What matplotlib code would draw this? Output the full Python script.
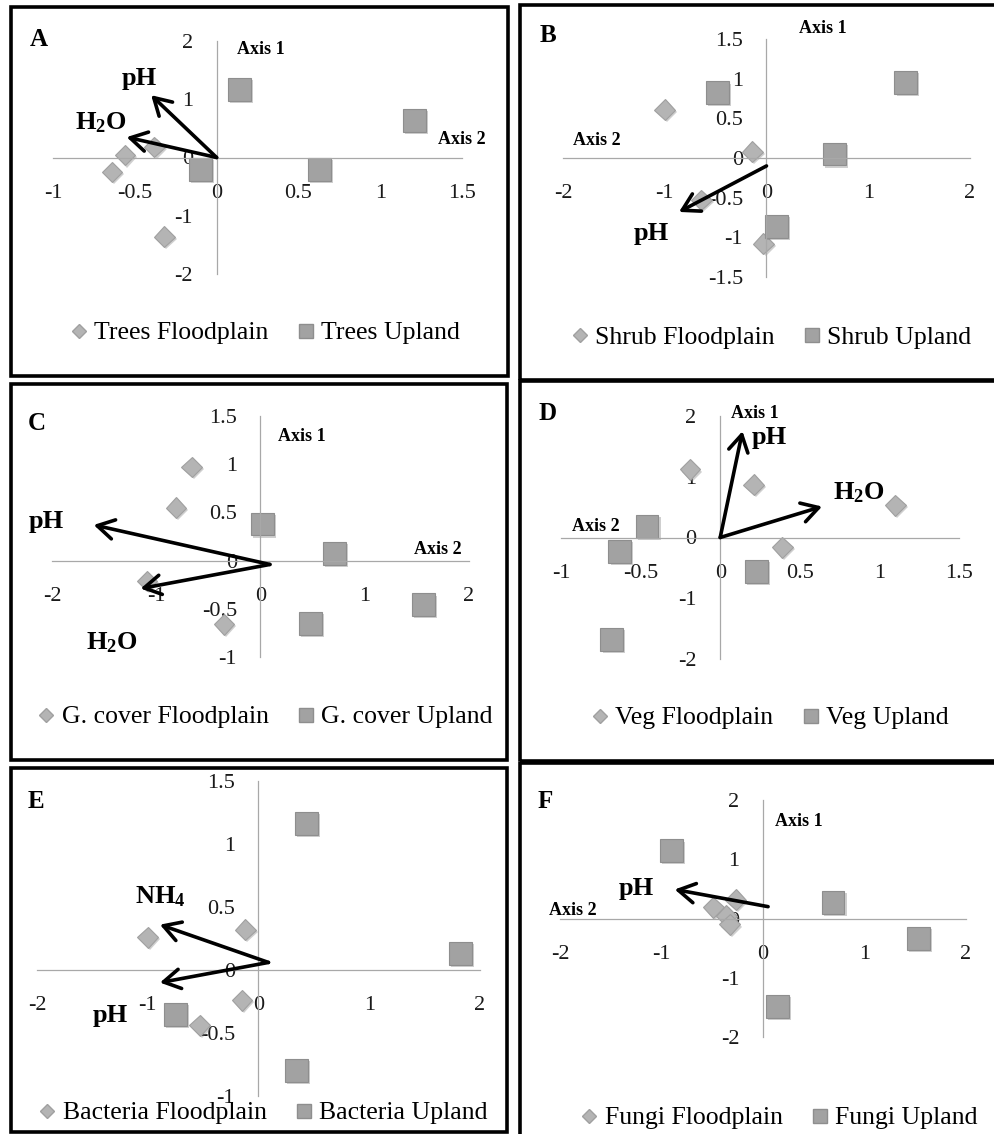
import matplotlib.pyplot as plt
import matplotlib.patheffects as pe
from matplotlib.patches import Rectangle
from matplotlib.lines import Line2D

plt.rcParams['font.family'] = 'Liberation Serif'
plt.rcParams['mathtext.fontset'] = 'custom'
plt.rcParams['mathtext.rm'] = 'Liberation Serif'
plt.rcParams['mathtext.bf'] = 'Liberation Serif:bold'

W, H = 995, 1134

# ordination scores (Axis 2 on x, Axis 1 on y)
trees_flood_x = [-0.38, -0.56, -0.64, -0.32]
trees_flood_y = [0.18, 0.04, -0.25, -1.36]
trees_up_x = [0.14, 1.21, 0.63, -0.10]
trees_up_y = [1.17, 0.63, -0.21, -0.21]

shrub_flood_x = [-1.00, -0.14, -0.64, -0.03]
shrub_flood_y = [0.61, 0.08, -0.53, -1.08]
shrub_up_x = [-0.48, 1.37, 0.67, 0.10]
shrub_up_y = [0.82, 0.95, 0.05, -0.86]

gcover_flood_x = [-0.66, -0.81, -1.09, -0.35]
gcover_flood_y = [0.97, 0.55, -0.21, -0.66]
gcover_up_x = [0.02, 0.71, 0.48, 1.56]
gcover_up_y = [0.38, 0.07, -0.65, -0.46]

veg_flood_x = [-0.19, 0.21, 1.10, 0.39]
veg_flood_y = [1.12, 0.87, 0.53, -0.16]
veg_up_x = [-0.46, -0.63, 0.23, -0.68]
veg_up_y = [0.18, -0.23, -0.56, -1.68]

bact_flood_x = [-1.00, -0.12, -0.15, -0.53]
bact_flood_y = [0.26, 0.32, -0.24, -0.44]
bact_up_x = [0.43, 1.82, -0.75, 0.34]
bact_up_y = [1.16, 0.13, -0.35, -0.80]

fungi_flood_x = [-0.27, -0.49, -0.36, -0.33]
fungi_flood_y = [0.32, 0.19, 0.05, -0.10]
fungi_up_x = [-0.90, 0.69, 1.53, 0.14]
fungi_up_y = [1.14, 0.27, -0.34, -1.48]

# environmental vectors: start point, tip points
trees_vec_start = (0.0, 0.0)
trees_vec_names = ['pH', r'$\mathbf{H_2O}$']
trees_vec_x = [-0.40, -0.55]
trees_vec_y = [1.07, 0.35]

shrub_vec_start = (0.0, -0.10)
shrub_vec_names = ['pH']
shrub_vec_x = [-0.86]
shrub_vec_y = [-0.68]

gcover_vec_start = (0.09, -0.04)
gcover_vec_names = ['pH', r'$\mathbf{H_2O}$']
gcover_vec_x = [-1.60, -1.15]
gcover_vec_y = [0.37, -0.29]

veg_vec_start = (0.0, 0.0)
veg_vec_names = ['pH', r'$\mathbf{H_2O}$']
veg_vec_x = [0.14, 0.64]
veg_vec_y = [1.75, 0.51]

bact_vec_start = (0.09, 0.06)
bact_vec_names = [r'$\mathbf{NH_4}$', 'pH']
bact_vec_x = [-0.89, -0.89]
bact_vec_y = [0.36, -0.10]

fungi_vec_start = (0.05, 0.20)
fungi_vec_names = ['pH']
fungi_vec_x = [-0.87]
fungi_vec_y = [0.49]

ticks_a = [-1, -0.5, 0, 0.5, 1, 1.5]
ticks_2 = [-2, -1, 0, 1, 2]
ticks_15 = [-1.5, -1, -0.5, 0, 0.5, 1, 1.5]
ticks_c = [-1, -0.5, 0, 0.5, 1, 1.5]

panels = [
    dict(letter='A', group='Trees', fx=trees_flood_x, fy=trees_flood_y, ux=trees_up_x, uy=trees_up_y,
         vs=trees_vec_start, vn=trees_vec_names, vx=trees_vec_x, vy=trees_vec_y,
         xt=ticks_a, yt=ticks_2,
         box=(11, 508, 7, 376), area=(53, 462, 41, 274), letter_xy=(39, 40), leg=(265, 333),
         vlab=[(-0.47, 1.36), (-0.71, 0.59)], ax1=(0.27, 1.85), ax2=(1.50, 0.31)),
    dict(letter='B', group='Shrub', fx=shrub_flood_x, fy=shrub_flood_y, ux=shrub_up_x, uy=shrub_up_y,
         vs=shrub_vec_start, vn=shrub_vec_names, vx=shrub_vec_x, vy=shrub_vec_y,
         xt=ticks_2, yt=ticks_15,
         box=(520, 1005, 5, 380), area=(563, 970, 39, 277), letter_xy=(548, 35), leg=(771, 338),
         vlab=[(-1.13, -0.95)], ax1=(0.55, 1.63), ax2=(-1.67, 0.22)),
    dict(letter='C', group='G. cover', fx=gcover_flood_x, fy=gcover_flood_y, ux=gcover_up_x, uy=gcover_up_y,
         vs=gcover_vec_start, vn=gcover_vec_names, vx=gcover_vec_x, vy=gcover_vec_y,
         xt=ticks_2, yt=ticks_c,
         box=(11, 507, 384, 760), area=(52, 469, 416, 657), letter_xy=(37, 423), leg=(265, 717),
         vlab=[(-2.05, 0.41), (-1.43, -0.85)], ax1=(0.40, 1.29), ax2=(1.70, 0.12)),
    dict(letter='D', group='Veg', fx=veg_flood_x, fy=veg_flood_y, ux=veg_up_x, uy=veg_up_y,
         vs=veg_vec_start, vn=veg_vec_names, vx=veg_vec_x, vy=veg_vec_y,
         xt=ticks_a, yt=ticks_2,
         box=(520, 1005, 381, 761), area=(561, 959, 416, 659), letter_xy=(548, 413), leg=(770, 718),
         vlab=[(0.31, 1.65), (0.87, 0.74)], ax1=(0.22, 2.04), ax2=(-0.78, 0.18)),
    dict(letter='E', group='Bacteria', fx=bact_flood_x, fy=bact_flood_y, ux=bact_up_x, uy=bact_up_y,
         vs=bact_vec_start, vn=bact_vec_names, vx=bact_vec_x, vy=bact_vec_y,
         xt=ticks_2, yt=ticks_c,
         box=(11, 507, 768, 1132), area=(37, 480, 781, 1096), letter_xy=(36, 802), leg=(263, 1113),
         vlab=[(-0.89, 0.58), (-1.34, -0.36)], ax1=None, ax2=None),
    dict(letter='F', group='Fungi', fx=fungi_flood_x, fy=fungi_flood_y, ux=fungi_up_x, uy=fungi_up_y,
         vs=fungi_vec_start, vn=fungi_vec_names, vx=fungi_vec_x, vy=fungi_vec_y,
         xt=ticks_2, yt=ticks_2,
         box=(520, 1005, 763, 1140), area=(560, 966, 800, 1037), letter_xy=(545, 802), leg=(779, 1118),
         vlab=[(-1.25, 0.51)], ax1=(0.35, 1.64), ax2=(-1.87, 0.14)),
]

flood_style = dict(marker='D', linestyle='none', markersize=10.5, markerfacecolor='#b4b4b4',
                   markeredgecolor='#a0a0a0', markeredgewidth=0.8)
up_style = dict(marker='s', linestyle='none', markersize=16.5, markerfacecolor='#a2a2a2',
                markeredgecolor='#8e8e8e', markeredgewidth=0.8)
shadow = [pe.SimplePatchShadow(offset=(1.5, -1.5), shadow_rgbFace='#777777', alpha=0.35), pe.Normal()]


def tick_text(v):
    return '{:g}'.format(v)


fig = plt.figure(figsize=(W / 100, H / 100), dpi=100)

for p in panels:
    x0, x1, y0, y1 = p['area']
    ax = fig.add_axes([x0 / W, 1 - y1 / H, (x1 - x0) / W, (y1 - y0) / H])
    ax.patch.set_visible(False)
    ax.set_xlim(p['xt'][0], p['xt'][-1])
    ax.set_ylim(p['yt'][0], p['yt'][-1])

    for side in ['top', 'right']:
        ax.spines[side].set_visible(False)
    for side in ['left', 'bottom']:
        ax.spines[side].set_position(('data', 0))
        ax.spines[side].set_color('#a8a8a8')
        ax.spines[side].set_linewidth(0.9)

    ax.set_xticks(p['xt'])
    ax.set_xticklabels([tick_text(v) for v in p['xt']])
    ax.set_yticks(p['yt'])
    ax.set_yticklabels([tick_text(v) for v in p['yt']])
    ax.tick_params(length=0, labelsize=16, labelcolor='#1a1a1a')
    ax.tick_params(axis='x', pad=19)
    ax.tick_params(axis='y', pad=17)

    ax.plot(p['fx'], p['fy'], clip_on=False, path_effects=shadow, **flood_style)
    ax.plot(p['ux'], p['uy'], clip_on=False, path_effects=shadow, **up_style)

    for name, tx, ty, (lx, ly) in zip(p['vn'], p['vx'], p['vy'], p['vlab']):
        ax.annotate('', xy=(tx, ty), xytext=p['vs'],
                    arrowprops=dict(arrowstyle='->, head_length=0.6, head_width=0.35',
                                    lw=2.6, color='black', shrinkA=0, shrinkB=0,
                                    mutation_scale=20),
                    zorder=5)
        ax.text(lx, ly, name, fontsize=19, fontweight='bold', ha='center', va='center', zorder=6)

    if p['ax1'] is not None:
        ax.text(*p['ax1'], 'Axis 1', fontsize=13, fontweight='bold', ha='center', va='center')
    if p['ax2'] is not None:
        ax.text(*p['ax2'], 'Axis 2', fontsize=13, fontweight='bold', ha='center', va='center')

    handles = [Line2D([], [], marker='D', linestyle='none', markersize=7, markerfacecolor='#b4b4b4',
                      markeredgecolor='#a0a0a0'),
               Line2D([], [], marker='s', linestyle='none', markersize=10, markerfacecolor='#a2a2a2',
                      markeredgecolor='#8e8e8e')]
    labels = [p['group'] + ' Floodplain', p['group'] + ' Upland']
    lx, ly = p['leg']
    ax.legend(handles, labels, loc='center', bbox_to_anchor=(lx / W, 1 - ly / H),
              bbox_transform=fig.transFigure, ncol=2, frameon=False, fontsize=18.5,
              handlelength=0.7, handletextpad=0.25, columnspacing=1.1, borderpad=0)

    bx0, bx1, by0, by1 = p['box']
    fig.add_artist(Rectangle((bx0 / W, 1 - by1 / H), (bx1 - bx0) / W, (by1 - by0) / H,
                             transform=fig.transFigure, fill=False, lw=2.6, ec='black'))
    lx, ly = p['letter_xy']
    fig.text(lx / W, 1 - ly / H, p['letter'], fontsize=18, fontweight='bold', ha='center', va='center')

fig.savefig('out.png', dpi=100)
